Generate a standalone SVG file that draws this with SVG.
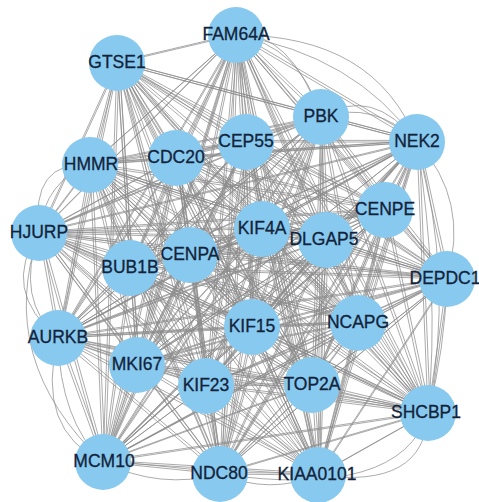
<svg xmlns="http://www.w3.org/2000/svg" xmlns:xlink="http://www.w3.org/1999/xlink" width="479" height="502" viewBox="0 0 479 502">
<style>
.e{fill:none;stroke:#8a8a8a;stroke-width:0.85;stroke-opacity:0.85}
.n circle{fill:#87c9ef}
.n text{font-family:"Liberation Sans",Arial,Helvetica,sans-serif;font-size:17.5px;fill:#13233a;stroke:#13233a;stroke-width:0.3;text-anchor:middle;dominant-baseline:central}
</style>
<rect width="479" height="502" fill="#ffffff"/>
<g id="connectors" class="e">
<g id="edges">
<path d="M117 63L236 35L321 117M417 142L236 35L246 142M176 158L236 35L90 165M385 210L236 35L39 233M262 229L236 35L326 240M190 255L236 35L130 268M447 279L236 35L58 338M252 327L236 35L358 323M137 365L236 35L206 386M312 385L236 35L428 413M103 462L236 35L220 474M236 35L318 475"/>
<path d="M321 117L117 63L417 142M246 142L117 63L176 158M90 165L117 63L385 210M39 233L117 63L262 229M326 240L117 63L190 255M130 268L117 63L447 279M58 338L117 63L252 327M358 323L117 63L137 365M206 386L117 63L312 385M428 413L117 63L103 462M220 474L117 63L318 475"/>
<path d="M417 142L321 117L246 142M176 158L321 117L90 165M385 210L321 117L39 233M262 229L321 117L326 240M190 255L321 117L130 268M447 279L321 117L58 338M252 327L321 117L358 323M137 365L321 117L206 386M312 385L321 117L428 413M103 462L321 117L220 474M321 117L318 475"/>
<path d="M246 142L417 142L176 158M90 165L417 142L385 210M39 233L417 142L262 229M326 240L417 142L190 255M130 268L417 142L447 279M58 338L417 142L252 327M358 323L417 142L137 365M206 386L417 142L312 385M428 413L417 142L103 462M220 474L417 142L318 475"/>
<path d="M176 158L246 142L90 165M385 210L246 142L39 233M262 229L246 142L326 240M190 255L246 142L130 268M447 279L246 142L58 338M252 327L246 142L358 323M137 365L246 142L206 386M312 385L246 142L428 413M103 462L246 142L220 474M246 142L318 475"/>
<path d="M90 165L176 158L385 210M39 233L176 158L262 229M326 240L176 158L190 255M130 268L176 158L447 279M58 338L176 158L252 327M358 323L176 158L137 365M206 386L176 158L312 385M428 413L176 158L103 462M220 474L176 158L318 475"/>
<path d="M385 210L90 165L39 233M262 229L90 165L326 240M190 255L90 165L130 268M447 279L90 165L58 338M252 327L90 165L358 323M137 365L90 165L206 386M312 385L90 165L428 413M103 462L90 165L220 474M90 165L318 475"/>
<path d="M39 233L385 210L262 229M326 240L385 210L190 255M130 268L385 210L447 279M58 338L385 210L252 327M358 323L385 210L137 365M206 386L385 210L312 385M428 413L385 210L103 462M220 474L385 210L318 475"/>
<path d="M262 229L39 233L326 240M190 255L39 233L130 268M447 279L39 233L58 338M252 327L39 233L358 323M137 365L39 233L206 386M312 385L39 233L428 413M103 462L39 233L220 474M39 233L318 475"/>
<path d="M326 240L262 229L190 255M130 268L262 229L447 279M58 338L262 229L252 327M358 323L262 229L137 365M206 386L262 229L312 385M428 413L262 229L103 462M220 474L262 229L318 475"/>
<path d="M190 255L326 240L130 268M447 279L326 240L58 338M252 327L326 240L358 323M137 365L326 240L206 386M312 385L326 240L428 413M103 462L326 240L220 474M326 240L318 475"/>
<path d="M130 268L190 255L447 279M58 338L190 255L252 327M358 323L190 255L137 365M206 386L190 255L312 385M428 413L190 255L103 462M220 474L190 255L318 475"/>
<path d="M447 279L130 268L58 338M252 327L130 268L358 323M137 365L130 268L206 386M312 385L130 268L428 413M103 462L130 268L220 474M130 268L318 475"/>
<path d="M58 338L447 279L252 327M358 323L447 279L137 365M206 386L447 279L312 385M428 413L447 279L103 462M220 474L447 279L318 475"/>
<path d="M252 327L58 338L358 323M137 365L58 338L206 386M312 385L58 338L428 413M103 462L58 338L220 474M58 338L318 475"/>
<path d="M358 323L252 327L137 365M206 386L252 327L312 385M428 413L252 327L103 462M220 474L252 327L318 475"/>
<path d="M137 365L358 323L206 386M312 385L358 323L428 413M103 462L358 323L220 474M358 323L318 475"/>
<path d="M206 386L137 365L312 385M428 413L137 365L103 462M220 474L137 365L318 475"/>
<path d="M312 385L206 386L428 413M103 462L206 386L220 474M206 386L318 475"/>
<path d="M428 413L312 385L103 462M220 474L312 385L318 475"/>
<path d="M103 462L428 413L220 474M428 413L318 475"/>
<path d="M220 474L103 462L318 475M220 474L318 475"/>
</g>
<use xlink:href="#edges" href="#edges" transform="translate(2.2,-1.6)"/>
<path d="M236 35Q375 35 417 142M236 35Q355 55 417 142M236 35Q300 45 321 117M236 35Q290 30 321 117M321 117Q372 85 417 142M321 117Q375 100 417 142M417 142Q470 200 447 279M417 142Q455 280 428 413M417 142Q440 290 428 413M447 279Q445 350 428 413M428 413Q425 490 318 475M428 413Q400 500 220 474M90 165Q30 160 39 233M90 165Q45 180 39 233M39 233Q0 290 58 338M39 233Q15 300 58 338M39 233Q-5 360 103 462M58 338Q35 430 103 462M58 338Q60 420 103 462M103 462Q160 490 220 474M220 474Q270 495 318 475"/>
</g>
<g id="FAM64A" class="n"><circle cx="236" cy="35" r="28"/><text x="236" y="34">FAM64A</text></g>
<g id="GTSE1" class="n"><circle cx="117" cy="63" r="28"/><text x="117" y="62">GTSE1</text></g>
<g id="PBK" class="n"><circle cx="321" cy="117" r="28"/><text x="321" y="116">PBK</text></g>
<g id="NEK2" class="n"><circle cx="417" cy="142" r="28"/><text x="417" y="141">NEK2</text></g>
<g id="CEP55" class="n"><circle cx="246" cy="142" r="28"/><text x="246" y="141">CEP55</text></g>
<g id="CDC20" class="n"><circle cx="176" cy="158" r="28"/><text x="176" y="157">CDC20</text></g>
<g id="HMMR" class="n"><circle cx="90" cy="165" r="28"/><text x="91" y="164">HMMR</text></g>
<g id="CENPE" class="n"><circle cx="385" cy="210" r="28"/><text x="385" y="209">CENPE</text></g>
<g id="HJURP" class="n"><circle cx="39" cy="233" r="28"/><text x="39" y="232">HJURP</text></g>
<g id="KIF4A" class="n"><circle cx="262" cy="229" r="28"/><text x="262" y="228">KIF4A</text></g>
<g id="DLGAP5" class="n"><circle cx="326" cy="240" r="28"/><text x="324" y="239">DLGAP5</text></g>
<g id="CENPA" class="n"><circle cx="190" cy="255" r="28"/><text x="190" y="254">CENPA</text></g>
<g id="BUB1B" class="n"><circle cx="130" cy="268" r="28"/><text x="130" y="267">BUB1B</text></g>
<g id="DEPDC1" class="n"><circle cx="447" cy="279" r="28"/><text x="445" y="278">DEPDC1</text></g>
<g id="AURKB" class="n"><circle cx="58" cy="338" r="28"/><text x="58" y="337">AURKB</text></g>
<g id="KIF15" class="n"><circle cx="252" cy="327" r="28"/><text x="252" y="326">KIF15</text></g>
<g id="NCAPG" class="n"><circle cx="358" cy="323" r="28"/><text x="358" y="322">NCAPG</text></g>
<g id="MKI67" class="n"><circle cx="137" cy="365" r="28"/><text x="137" y="364">MKI67</text></g>
<g id="KIF23" class="n"><circle cx="206" cy="386" r="28"/><text x="206" y="385">KIF23</text></g>
<g id="TOP2A" class="n"><circle cx="312" cy="385" r="28"/><text x="312" y="384">TOP2A</text></g>
<g id="SHCBP1" class="n"><circle cx="428" cy="413" r="28"/><text x="426" y="412">SHCBP1</text></g>
<g id="MCM10" class="n"><circle cx="103" cy="462" r="28"/><text x="104" y="461">MCM10</text></g>
<g id="NDC80" class="n"><circle cx="220" cy="474" r="28"/><text x="219" y="473">NDC80</text></g>
<g id="KIAA0101" class="n"><circle cx="318" cy="475" r="28"/><text x="317" y="474">KIAA0101</text></g>
</svg>
